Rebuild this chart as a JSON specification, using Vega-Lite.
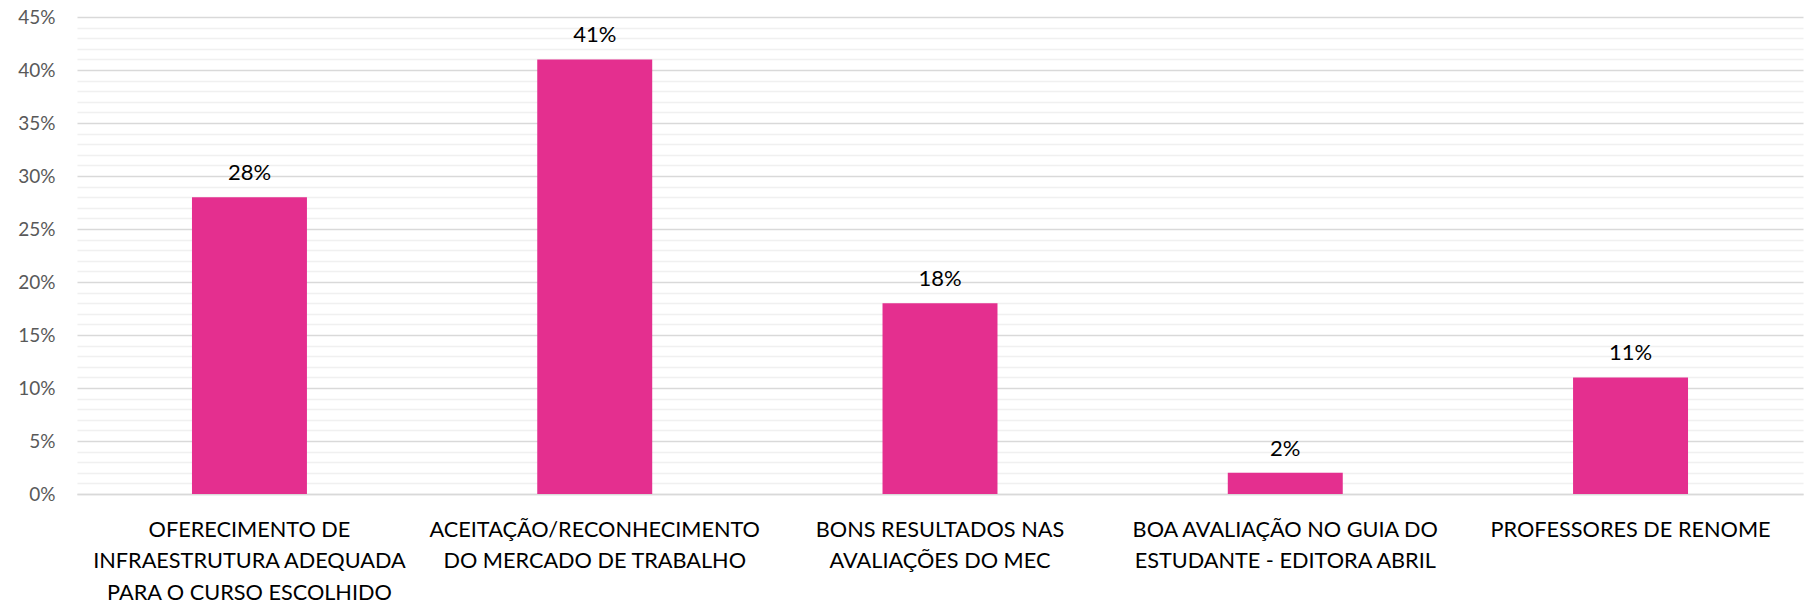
{
  "$schema": "https://vega.github.io/schema/vega-lite/v6.json",
  "width": 1726,
  "height": 477,
  "autosize": "none",
  "padding": {"left": 77, "top": 17, "right": 2, "bottom": 113},
  "config": {"view": {"stroke": null}, "font": "Lato"},
  "data": {
    "values": [
      {"cat": "OFERECIMENTO DE|INFRAESTRUTURA ADEQUADA|PARA O CURSO ESCOLHIDO", "v": 0.28},
      {"cat": "ACEITAÇÃO/RECONHECIMENTO|DO MERCADO DE TRABALHO", "v": 0.41},
      {"cat": "BONS RESULTADOS NAS|AVALIAÇÕES DO MEC", "v": 0.18},
      {"cat": "BOA AVALIAÇÃO NO GUIA DO|ESTUDANTE - EDITORA ABRIL", "v": 0.02},
      {"cat": "PROFESSORES DE RENOME", "v": 0.11}
    ]
  },
  "encoding": {
    "x": {
      "field": "cat",
      "type": "nominal",
      "sort": null,
      "scale": {"paddingInner": 0.667, "paddingOuter": 0.333},
      "axis": {
        "title": null,
        "labelAngle": 0,
        "labelExpr": "split(datum.value, '|')",
        "labelFontSize": 21.7,
        "labelLineHeight": 31.5,
        "labelColor": "#000000",
        "labelPadding": 25,
        "labelBaseline": "top",
        "labelLimit": 0,
        "ticks": false,
        "domain": true,
        "domainColor": "#d9d9d9",
        "domainWidth": 1.5,
        "grid": false
      }
    }
  },
  "layer": [
    {
      "mark": {"type": "bar", "color": "#E42F8F"},
      "encoding": {
        "y": {
          "field": "v",
          "type": "quantitative",
          "scale": {"domain": [0, 0.45]},
          "axis": {
            "orient": "left",
            "title": null,
            "values": [0.01,0.02,0.03,0.04,0.06,0.07,0.08,0.09,0.11,0.12,0.13,0.14,0.16,0.17,0.18,0.19,0.21,0.22,0.23,0.24,0.26,0.27,0.28,0.29,0.31,0.32,0.33,0.34,0.36,0.37,0.38,0.39,0.41,0.42,0.43,0.44],
            "labels": false,
            "ticks": false,
            "domain": false,
            "grid": true,
            "gridColor": "#f0f0f0",
            "gridWidth": 1.5
          }
        }
      }
    },
    {
      "mark": {"type": "text", "fontSize": 22, "color": "#000000", "baseline": "alphabetic", "dy": -17},
      "encoding": {
        "y": {
          "field": "v",
          "type": "quantitative",
          "scale": {"domain": [0, 0.45]},
          "axis": {
            "orient": "left",
            "title": null,
            "values": [0, 0.05, 0.1, 0.15, 0.2, 0.25, 0.3, 0.35, 0.4, 0.45],
            "format": ".0%",
            "labelFontSize": 19,
            "labelColor": "#595959",
            "labelPadding": 22,
            "ticks": false,
            "domain": false,
            "grid": true,
            "gridColor": "#d9d9d9",
            "gridWidth": 1.5
          }
        },
        "text": {"field": "v", "format": ".0%"}
      }
    }
  ],
  "resolve": {"axis": {"y": "independent"}}
}
